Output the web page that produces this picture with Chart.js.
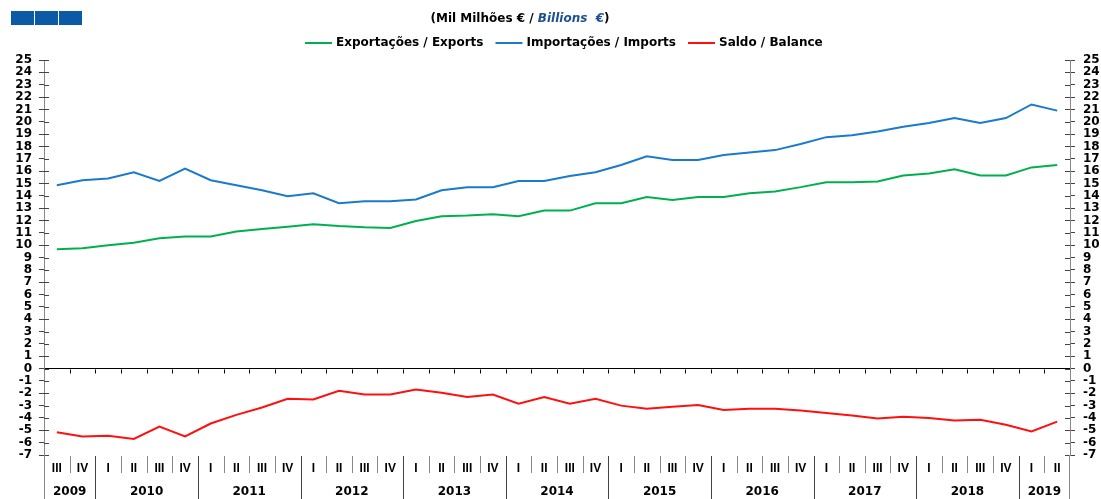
<!DOCTYPE html>
<html><head><meta charset="utf-8">
<script src="https://cdn.jsdelivr.net/npm/chart.js@4.4.0/dist/chart.umd.min.js"></script>
<style>html,body{margin:0;padding:0;background:#fff;}#wrap{width:1101px;height:499px;}</style>
</head><body><div id="wrap"><canvas id="c" width="1101" height="499"></canvas></div>
<script>
const quarters = ['III','IV',
  'I','II','III','IV','I','II','III','IV','I','II','III','IV',
  'I','II','III','IV','I','II','III','IV','I','II','III','IV',
  'I','II','III','IV','I','II','III','IV','I','II','III','IV',
  'I','II'];
const years = ['2009','2009',
  '2010','2010','2010','2010','2011','2011','2011','2011','2012','2012','2012','2012',
  '2013','2013','2013','2013','2014','2014','2014','2014','2015','2015','2015','2015',
  '2016','2016','2016','2016','2017','2017','2017','2017','2018','2018','2018','2018',
  '2019','2019'];
const exportsData = [9.66,9.74,10.0,10.2,10.55,10.7,10.7,11.1,11.3,11.5,11.7,11.55,11.45,11.4,
  11.95,12.35,12.4,12.5,12.35,12.8,12.8,13.4,13.4,13.9,13.65,13.9,13.9,14.2,14.35,14.7,
  15.1,15.1,15.15,15.65,15.8,16.15,15.65,15.65,16.3,16.5];
const importsData = [14.85,15.26,15.4,15.9,15.2,16.2,15.26,14.85,14.45,13.96,14.2,13.4,13.55,13.55,
  13.7,14.45,14.7,14.7,15.2,15.2,15.6,15.9,16.5,17.2,16.9,16.9,17.3,17.5,17.7,18.2,
  18.75,18.9,19.2,19.6,19.9,20.3,19.9,20.3,21.4,20.9];
const balanceData = [-5.15,-5.5,-5.45,-5.7,-4.7,-5.5,-4.45,-3.75,-3.15,-2.45,-2.5,-1.8,-2.1,-2.1,
  -1.7,-1.95,-2.3,-2.1,-2.85,-2.3,-2.85,-2.45,-3.0,-3.25,-3.1,-2.95,-3.35,-3.25,-3.25,-3.4,
  -3.6,-3.8,-4.05,-3.9,-4.0,-4.2,-4.15,-4.55,-5.1,-4.3];
const seriesNames = ['Exportações / Exports','Importações / Imports','Saldo / Balance'];
const seriesColors = ['#00b050','#1a7acb','#ff1010'];
const yMin = -7, yMax = 25;
const titlePt = '(Mil Milhões € / ';
const titleEn = 'Billions  €';
const titleClose = ')';

const BOLD = 'bold 12px "DejaVu Sans"';

const decor = {
  id: 'decor',
  afterDraw(chart) {
    const ctx = chart.ctx, ca = chart.chartArea;
    const xs = chart.scales.x, ys = chart.scales.y;
    ctx.save();
    // logo
    ctx.fillStyle = '#0b5aa6';
    for (let k = 0; k < 3; k++) ctx.fillRect(11 + k * 24, 11, 23, 14);
    // title
    ctx.font = BOLD; ctx.textBaseline = 'middle';
    const w1 = ctx.measureText(titlePt).width, w2 = ctx.measureText(titleEn).width, w3 = ctx.measureText(titleClose).width;
    let tx = 520 - (w1 + w2 + w3) / 2;
    ctx.fillStyle = '#000'; ctx.fillText(titlePt, tx, 19);
    ctx.font = 'italic bold 12px "DejaVu Sans"'; ctx.fillStyle = '#1d4f91';
    ctx.fillText(titleEn, tx + w1, 19);
    ctx.font = BOLD; ctx.fillStyle = '#000';
    ctx.fillText(titleClose, tx + w1 + w2, 19);
    // legend
    let lx = 305;
    chart.data.datasets.forEach((ds) => {
      ctx.strokeStyle = ds.borderColor; ctx.lineWidth = 2;
      ctx.beginPath(); ctx.moveTo(lx, 43); ctx.lineTo(lx + 27, 43); ctx.stroke();
      ctx.fillStyle = '#000'; ctx.font = BOLD; ctx.textBaseline = 'middle';
      ctx.fillText(ds.label, lx + 31, 43);
      lx += 31 + ctx.measureText(ds.label).width + 12;
    });
    // inner halves of y tick marks
    ctx.strokeStyle = '#444'; ctx.lineWidth = 1;
    for (let v = yMin; v <= yMax; v++) {
      const y = Math.round(ys.getPixelForValue(v)) + 0.5;
      ctx.beginPath();
      ctx.moveTo(ca.left, y); ctx.lineTo(ca.left + 5, y);
      ctx.moveTo(ca.right - 5, y); ctx.lineTo(ca.right, y);
      ctx.stroke();
    }
    // axis extensions
    ctx.strokeStyle = '#888';
    ctx.beginPath();
    ctx.moveTo(Math.round(ca.left) + 0.5, ca.bottom); ctx.lineTo(Math.round(ca.left) + 0.5, 499);
    ctx.moveTo(Math.round(ca.right) - 0.5, ca.bottom); ctx.lineTo(Math.round(ca.right) - 0.5, 499);
    ctx.stroke();
    // zero-line ticks and category separators
    const y0 = Math.round(ys.getPixelForValue(0)) + 0.5;
    const n = quarters.length;
    for (let i = 1; i < n; i++) {
      const bx = Math.round((xs.getPixelForValue(i - 1) + xs.getPixelForValue(i)) / 2) + 0.5;
      ctx.strokeStyle = '#000';
      ctx.beginPath(); ctx.moveTo(bx, y0); ctx.lineTo(bx, y0 + 4); ctx.stroke();
      const newYear = years[i] !== years[i - 1];
      ctx.strokeStyle = newYear ? '#444' : '#888';
      ctx.beginPath(); ctx.moveTo(bx, ca.bottom + 1); ctx.lineTo(bx, newYear ? 499 : 473); ctx.stroke();
    }
    // year labels
    ctx.font = BOLD; ctx.fillStyle = '#000'; ctx.textAlign = 'center'; ctx.textBaseline = 'middle';
    let start = 0;
    for (let i = 1; i <= n; i++) {
      if (i === n || years[i] !== years[start]) {
        const cx = (xs.getPixelForValue(start) + xs.getPixelForValue(i - 1)) / 2;
        ctx.fillText(years[start], cx, 492);
        start = i;
      }
    }
    ctx.restore();
  }
};

new Chart(document.getElementById('c'), {
  type: 'line',
  data: {
    labels: quarters,
    datasets: [
      { label: seriesNames[0], data: exportsData, borderColor: seriesColors[0], backgroundColor: seriesColors[0] },
      { label: seriesNames[1], data: importsData, borderColor: seriesColors[1], backgroundColor: seriesColors[1] },
      { label: seriesNames[2], data: balanceData, borderColor: seriesColors[2], backgroundColor: seriesColors[2] }
    ]
  },
  options: {
    responsive: false,
    animation: false,
    devicePixelRatio: 1,
    layout: { padding: { top: 60, left: 0, right: 0, bottom: 0 } },
    elements: { point: { radius: 0 }, line: { borderWidth: 2, tension: 0 } },
    plugins: { legend: { display: false }, title: { display: false }, tooltip: { enabled: false } },
    scales: {
      x: {
        type: 'category', offset: true,
        grid: { display: false }, border: { display: false },
        ticks: { autoSkip: false, maxRotation: 0, padding: -2, color: '#000',
          font: { family: '"Liberation Sans"', weight: 'bold', size: 12 } },
        afterFit(s) { s.height = 44; }
      },
      y: {
        position: 'left', min: yMin, max: yMax,
        ticks: { stepSize: 1, autoSkip: false, padding: 7, color: '#000',
          font: { family: '"DejaVu Sans"', weight: 'bold', size: 12 } },
        grid: { drawOnChartArea: true, tickLength: 5, tickColor: '#444',
          color: (c) => (c.tick && c.tick.value === 0) ? '#000' : 'rgba(0,0,0,0)' },
        border: { display: true, color: '#888' },
        afterFit(s) { s.width = 44; }
      },
      y2: {
        position: 'right', min: yMin, max: yMax,
        ticks: { stepSize: 1, autoSkip: false, padding: 8, color: '#000',
          font: { family: '"DejaVu Sans"', weight: 'bold', size: 12 } },
        grid: { drawOnChartArea: false, tickLength: 5, tickColor: '#444' },
        border: { display: true, color: '#888' },
        afterFit(s) { s.width = 31; }
      }
    }
  },
  plugins: [decor]
});
</script></body></html>
